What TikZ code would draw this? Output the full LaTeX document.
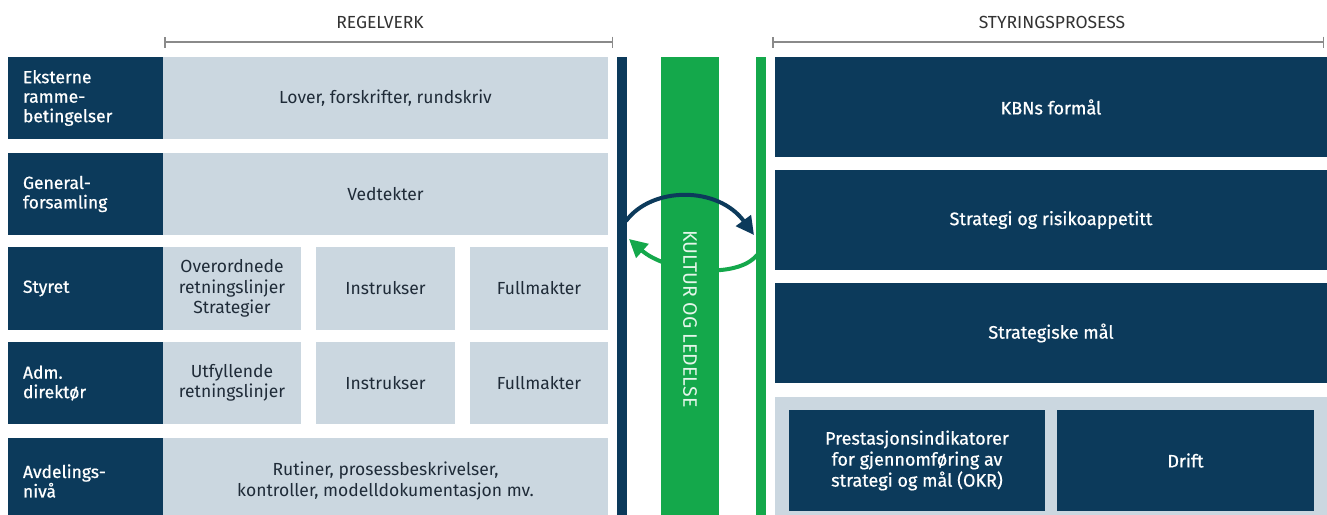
\documentclass[tikz,border=0pt]{standalone}
\usepackage{fontspec}
\setmainfont{Fira Sans}
\newfontfamily\semi{Fira Sans}[FakeBold=0.7]
\usetikzlibrary{arrows.meta}
\definecolor{navy}{HTML}{0C3A5B}
\definecolor{pale}{HTML}{CBD7E0}
\definecolor{kgreen}{HTML}{14A84B}
\definecolor{ink}{HTML}{1F2B38}
\definecolor{brk}{HTML}{8A8A8A}
\definecolor{head}{HTML}{333333}
\definecolor{kltxt}{HTML}{E4F6EA}
\begin{document}
\begin{tikzpicture}[x=1pt,y=-1pt,
  cell/.style={inner sep=0pt, outer sep=0pt, anchor=north west, draw=none},
  lab/.style={cell, fill=navy, text=white, font=\semi\fontsize{17.5}{19.5}\selectfont,
    align=left, text width=125pt, inner xsep=15pt, minimum width=155pt},
  lt/.style={cell, fill=pale, text=ink, font=\fontsize{17.5}{20.5}\selectfont, align=center},
  dk/.style={cell, fill=navy, text=white, font=\semi\fontsize{18}{21}\selectfont, align=center},
  bar/.style={cell, minimum height=470pt},
  hdr/.style={text=head, font=\fontsize{17.5}{19}\selectfont, inner sep=0pt},
  brack/.style={draw=brk, line width=2pt, {Bar[width=11pt,line width=1.5pt]}-{Bar[width=11pt,line width=1.5pt]}},
  arr/.style={line width=4pt, -{Triangle[length=18pt,width=18pt]}}
]
\useasboundingbox (0,0) rectangle (1327,514);
\fill[white] (0,0) rectangle (1327,514);

% headers
\node[hdr] (hreg) at (380,22) {REGELVERK};
\node[hdr] (hsty) at (1052,22) {STYRINGSPROSESS};
\coordinate (b1a) at (164,42); \coordinate (b1b) at (613,42);
\coordinate (b2a) at (772,42); \coordinate (b2b) at (1324,42);
\draw[brack] (b1a) -- (b1b);
\draw[brack] (b2a) -- (b2b);

% left labels
\node[lab, minimum height=82pt] (l1) at (8,57) {Eksterne\\ramme-\\betingelser};
\node[lab, minimum height=82pt] (l2) at (8,153) {General-\\forsamling};
\node[lab, minimum height=83pt] (l3) at (8,247) {Styret};
\node[lab, minimum height=82pt] (l4) at (8,342) {Adm.\\direktør};
\node[lab, minimum height=86pt] (l5) at (8,438) {Avdelings-\\nivå};

% left content
\node[lt, minimum width=445pt, minimum height=82pt] (c1) at (163,57) {Lover, forskrifter, rundskriv};
\node[lt, minimum width=445pt, minimum height=82pt] (c2) at (163,153) {Vedtekter};
\node[lt, minimum width=138pt, minimum height=83pt] (c3a) at (163,247) {Overordnede\\retningslinjer\\Strategier};
\node[lt, minimum width=139pt, minimum height=83pt] (c3b) at (316,247) {Instrukser};
\node[lt, minimum width=138pt, minimum height=83pt] (c3c) at (470,247) {Fullmakter};
\node[lt, minimum width=138pt, minimum height=82pt] (c4a) at (163,342) {Utfyllende\\retningslinjer};
\node[lt, minimum width=139pt, minimum height=82pt] (c4b) at (316,342) {Instrukser};
\node[lt, minimum width=138pt, minimum height=82pt] (c4c) at (470,342) {Fullmakter};
\node[lt, minimum width=445pt, minimum height=86pt] (c5) at (163,438) {Rutiner, prosessbeskrivelser,\\kontroller, modelldokumentasjon mv.};

% vertical bars
\node[bar, fill=navy, minimum width=10pt] (vbar) at (617,57) {};
\node[bar, fill=kgreen, minimum width=10pt] (gbar) at (756,57) {};

% green return arrow (behind the wide green bar)
\coordinate (ga) at (757,255);
\coordinate (gb) at (629,239);
\draw[arr, kgreen] (ga) .. controls (737,280) and (666,272) .. (gb);

\node[bar, fill=kgreen, minimum width=58pt] (kbar) at (661,57) {};
\node[rotate=-90, text=kltxt, font=\fontsize{19.5}{21}\selectfont, inner sep=0pt] (kl) at (690,319) {KULTUR OG LEDELSE};

% navy arrow over the bar
\coordinate (da) at (626,221);
\coordinate (db) at (754,235);
\draw[arr, navy] (da) .. controls (652,186) and (718,186) .. (db);

% right column
\node[dk, minimum width=552pt, minimum height=100pt] (r1) at (775,57) {KBNs formål};
\node[dk, minimum width=552pt, minimum height=100pt] (r2) at (775,170) {Strategi og risikoappetitt};
\node[dk, minimum width=552pt, minimum height=100pt] (r3) at (775,283) {Strategiske mål};
\node[cell, fill=pale, minimum width=552pt, minimum height=127pt] (r4) at (775,397) {};
\node[dk, minimum width=256pt, minimum height=101pt] (r4a) at (789,410) {Prestasjonsindikatorer\\for gjennomføring av\\strategi og mål (OKR)};
\node[dk, minimum width=257pt, minimum height=101pt] (r4b) at (1057,410) {Drift};
\end{tikzpicture}
\end{document}
